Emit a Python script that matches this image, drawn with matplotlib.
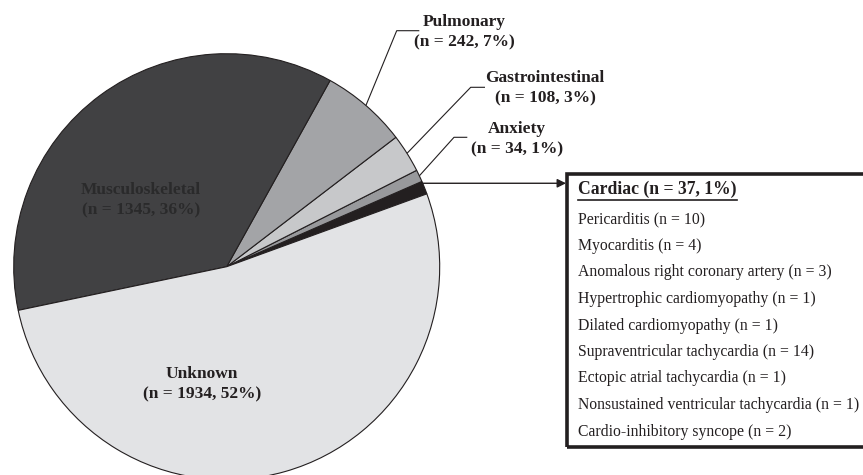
import matplotlib
matplotlib.use("Agg")
import matplotlib.pyplot as plt
from matplotlib.patches import Rectangle
import numpy as np

# chest pain etiologies (counter-clockwise from the cardiac wedge)
categories = ["Cardiac", "Anxiety", "Gastrointestinal", "Pulmonary",
              "Musculoskeletal", "Unknown"]
counts = [37, 34, 108, 242, 1345, 1934]
percents = [1, 1, 3, 7, 36, 52]
colors = ["#231f20", "#98999c", "#c7c8ca", "#a3a4a7", "#414143", "#e2e3e5"]

cardiac_causes = ["Pericarditis", "Myocarditis", "Anomalous right coronary artery",
                  "Hypertrophic cardiomyopathy", "Dilated cardiomyopathy",
                  "Supraventricular tachycardia", "Ectopic atrial tachycardia",
                  "Nonsustained ventricular tachycardia", "Cardio-inhibitory syncope"]
cardiac_counts = [10, 4, 3, 1, 1, 14, 1, 1, 2]

W, H = 863, 475
ink = "#231f20"
serif = "Liberation Serif"


def Y(y):
    # pixel row (from top) -> data y
    return H - y


fig = plt.figure(figsize=(W / 100, H / 100), dpi=100)
ax = fig.add_axes([0, 0, 1, 1])

cx, cy, R = 226.7, Y(266.7), 213
wedges, _ = ax.pie(counts, colors=colors, startangle=20, counterclock=True,
                   center=(cx, cy), radius=R,
                   wedgeprops=dict(edgecolor=ink, linewidth=0.8))
ax.set_xlim(0, W)
ax.set_ylim(0, H)
ax.set_aspect("equal")
ax.axis("off")


def rim_point(w, frac=0.5):
    a = np.deg2rad(w.theta1 + frac * (w.theta2 - w.theta1))
    return cx + R * np.cos(a), cy + R * np.sin(a)


def label(i):
    return f"{categories[i]}\n(n = {counts[i]}, {percents[i]}%)"


lbl = dict(fontsize=12.5, fontweight="bold", family=serif, linespacing=1.4,
           ha="center", va="center")

# labels inside the big wedges
ax.text(141, Y(200), label(4), color="#2a2a2b", **lbl)
ax.text(202, Y(384), label(5), color=ink, **lbl)

# leader-line labels for the small wedges
outside = {3: ((396.7, 30.7), (419.3, 30.7), (464, 32)),
           2: ((470.7, 87.3), (485, 87.3), (545, 88)),
           1: ((454, 137.3), (467.3, 137.3), (517, 139))}
for i, (elbow, end, txt) in outside.items():
    px, py = rim_point(wedges[i])
    ax.plot([px, elbow[0], end[0]], [py, Y(elbow[1]), Y(end[1])],
            color=ink, lw=0.8, solid_capstyle="butt")
    ax.text(txt[0], Y(txt[1]), label(i), color=ink, **lbl)

# cardiac arrow into the box
box_x, box_top, box_bot = 567, 174, 447
px, py = rim_point(wedges[0], 0.85)
ax.annotate("", xy=(box_x - 1, py), xytext=(px, py),
            arrowprops=dict(arrowstyle="-|>", color=ink, lw=1.0,
                            mutation_scale=13, shrinkA=0, shrinkB=0))

ax.add_patch(Rectangle((box_x, Y(box_bot)), 340, box_bot - box_top,
                       fill=False, edgecolor=ink, lw=2.6, clip_on=False))

text_x = 578
title = ax.text(text_x, Y(189), f"Cardiac (n = {counts[0]}, {percents[0]}%)",
                ha="left", va="center", fontsize=12.7, fontweight="bold",
                family=serif, color=ink)
fig.canvas.draw()
bb = title.get_window_extent().transformed(ax.transData.inverted())
ax.plot([bb.x0, bb.x1], [Y(200), Y(200)], color=ink, lw=1.2)

for k, (name, n) in enumerate(zip(cardiac_causes, cardiac_counts)):
    ax.text(text_x, Y(219.5 + 26.5 * k), f"{name} (n = {n})", ha="left",
            va="center", fontsize=11.3, family=serif, color=ink)

fig.savefig("out.png", dpi=100)
